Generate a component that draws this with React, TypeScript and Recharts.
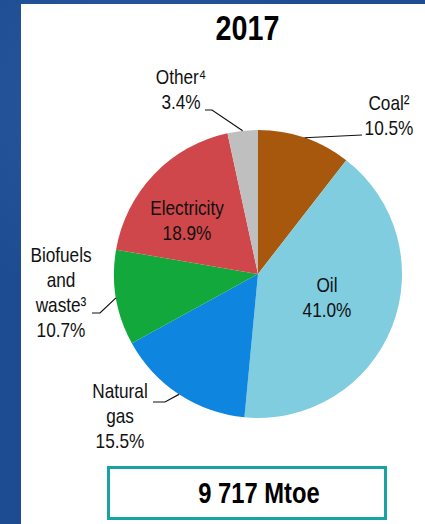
import { PieChart, Pie, Cell } from 'recharts';

const categories = ['Coal²', 'Oil', 'Natural gas', 'Biofuels and waste³', 'Electricity', 'Other⁴'];
const shares = [10.5, 41.0, 15.5, 10.7, 18.9, 3.4];
const labelLines = [['Coal²'], ['Oil'], ['Natural', 'gas'], ['Biofuels', 'and', 'waste³'], ['Electricity'], ['Other⁴']];
const colors = ['#a8580c', '#80cde0', '#0e86df', '#12a83c', '#cf474b', '#bfbfbf'];
const title = '2017';
const total = '9 717 Mtoe';

const data = categories.map((name, i) => ({ name, value: shares[i] }));

// no Arial Narrow here, so squeeze Liberation Sans horizontally
const FONT = '"Liberation Sans", Arial, sans-serif';
const NARROW = 0.82;
const RADIAN = Math.PI / 180;

// where each label sits, and the elbow of its leader line (null = no leader)
const labelLayout = [
  { x: 389, y: 110, leader: [[362, 135]] },
  { x: 327, y: 292, leader: null },
  { x: 120, y: 398, leader: [[165, 402], [153, 402]] },
  { x: 61, y: 262, leader: [[100, 313], [92, 313]] },
  { x: 187, y: 215, leader: null },
  { x: 181, y: 84, leader: [[212, 110], [205, 110]] },
];

const renderLabel = (props: any) => {
  const { cx, cy, midAngle, outerRadius, index, value } = props;
  const lay = labelLayout[index];
  const lines = [...labelLines[index], `${value.toFixed(1)}%`];
  let leader = null;
  if (lay.leader) {
    const sx = cx + outerRadius * Math.cos(-midAngle * RADIAN);
    const sy = cy + outerRadius * Math.sin(-midAngle * RADIAN);
    const pts = [[sx, sy], ...lay.leader].map((p) => p.join(',')).join(' ');
    leader = <polyline points={pts} fill="none" stroke="#111" strokeWidth={1.2} />;
  }
  return (
    <g key={`lbl-${index}`}>
      {leader}
      <text
        transform={`translate(${lay.x},${lay.y}) scale(${NARROW},1)`}
        textAnchor="middle"
        fontFamily={FONT}
        fontSize={21}
        fill="#111"
      >
        {lines.map((l, i) => (
          <tspan key={i} x={0} dy={i === 0 ? 0 : 25}>{l}</tspan>
        ))}
      </text>
    </g>
  );
};

export default function App() {
  return (
    <div
      style={{
        position: 'absolute',
        left: 0,
        top: 0,
        width: 425,
        height: 524,
        overflow: 'hidden',
        background:
          'radial-gradient(circle at 30% 20%, #2a5aa2 0%, rgba(0,0,0,0) 40%), radial-gradient(circle at 70% 80%, #2456a0 0%, rgba(0,0,0,0) 45%), #1e4c93',
      }}
    >
      <div style={{ position: 'absolute', left: 21, top: 4, width: 404, height: 520, background: '#ffffff' }} />
      <svg width={425} height={524} style={{ position: 'absolute', left: 0, top: 0 }}>
        <text
          transform={`translate(247.5,40) scale(${NARROW},1)`}
          textAnchor="middle"
          fontFamily={FONT}
          fontWeight="bold"
          fontSize={35}
          fill="#000"
        >
          {title}
        </text>
        <rect x={108.5} y={467.5} width={277} height={51} fill="#fff" stroke="#18a2a4" strokeWidth={3} />
        <text
          transform={`translate(259,503) scale(${NARROW},1)`}
          textAnchor="middle"
          fontFamily={FONT}
          fontWeight="bold"
          fontSize={29}
          fill="#000"
        >
          {total}
        </text>
      </svg>
      <div style={{ position: 'absolute', left: 0, top: 0 }}>
        <PieChart width={425} height={524} margin={{ top: 0, right: 0, bottom: 0, left: 0 }}>
          <Pie
            data={data}
            dataKey="value"
            nameKey="name"
            cx={258}
            cy={274}
            outerRadius={144}
            startAngle={90}
            endAngle={-270}
            stroke="none"
            label={renderLabel}
            labelLine={false}
            isAnimationActive={false}
          >
            {data.map((d, i) => (
              <Cell key={d.name} fill={colors[i]} />
            ))}
          </Pie>
        </PieChart>
      </div>
    </div>
  );
}
